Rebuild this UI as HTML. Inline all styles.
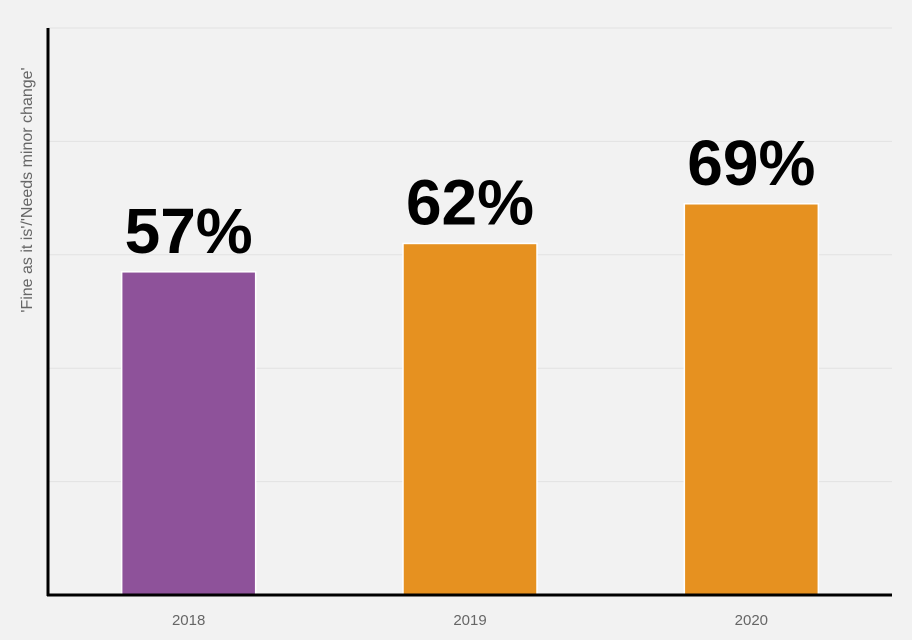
<!DOCTYPE html>
<html><head><meta charset="utf-8"><style>
html,body{margin:0;padding:0;background:#f2f2f2;}
svg{display:block;font-family:"Liberation Sans","DejaVu Sans",sans-serif;}
</style></head><body>
<svg id="chart" width="912" height="640" viewBox="0 0 912 640" xmlns="http://www.w3.org/2000/svg">
<rect x="0" y="0" width="912" height="640" fill="#f2f2f2"/>
<g id="grid"></g>
<g id="bars"></g>
<g id="labels"></g>
<g id="xticks"></g>
<line x1="48" y1="28" x2="48" y2="596" stroke="#000" stroke-width="3"/>
<line x1="47" y1="595" x2="892" y2="595" stroke="#000" stroke-width="3"/>
<text x="32" y="190" transform="rotate(-90 32 190)" text-anchor="middle" font-size="16" fill="#666">'Fine as it is'/'Needs minor change'</text>
</svg>
<script>
const categories = ["2018", "2019", "2020"];
const values = [57, 62, 69];
const valueLabels = ["57%", "62%", "69%"];
const barColors = ["#8e529a", "#e69120", "#e69120"];
const gridTicks = [20, 40, 60, 80, 100];

const NS = "http://www.w3.org/2000/svg";
const plotLeft = 48, plotRight = 892, plotBottom = 595, plotTop = 28;
const yMax = 100;
function yScale(v){ return plotBottom - (v / yMax) * (plotBottom - plotTop); }
const band = (plotRight - plotLeft) / categories.length;
function xCenter(i){ return plotLeft + band * (i + 0.5); }
const barW = 134;

const grid = document.getElementById('grid');
gridTicks.forEach(t => {
  const l = document.createElementNS(NS, 'line');
  l.setAttribute('x1', plotLeft); l.setAttribute('x2', plotRight);
  l.setAttribute('y1', yScale(t)); l.setAttribute('y2', yScale(t));
  l.setAttribute('stroke', '#e2e2e2'); l.setAttribute('stroke-width', '1');
  
  
  grid.appendChild(l);
});

const bars = document.getElementById('bars');
const labels = document.getElementById('labels');
const xticks = document.getElementById('xticks');
categories.forEach((c, i) => {
  const y = yScale(values[i]);
  const r = document.createElementNS(NS, 'rect');
  r.setAttribute('x', xCenter(i) - barW / 2);
  r.setAttribute('y', y);
  r.setAttribute('width', barW);
  r.setAttribute('height', plotBottom - y);
  r.setAttribute('fill', barColors[i]);
  r.setAttribute('stroke', '#ffffff');
  r.setAttribute('stroke-width', '1.5');
  
  
  bars.appendChild(r);

  const t = document.createElementNS(NS, 'text');
  t.setAttribute('x', xCenter(i));
  t.setAttribute('y', y - 19);
  t.setAttribute('text-anchor', 'middle');
  t.setAttribute('font-size', '64');
  t.setAttribute('font-weight', 'bold');
  t.setAttribute('fill', '#000');
  t.textContent = valueLabels[i];
  
  
  labels.appendChild(t);

  const x = document.createElementNS(NS, 'text');
  x.setAttribute('x', xCenter(i));
  x.setAttribute('y', 625);
  x.setAttribute('text-anchor', 'middle');
  x.setAttribute('font-size', '15');
  x.setAttribute('fill', '#666');
  x.textContent = c;
  
  
  xticks.appendChild(x);
});
</script>
</body></html>
